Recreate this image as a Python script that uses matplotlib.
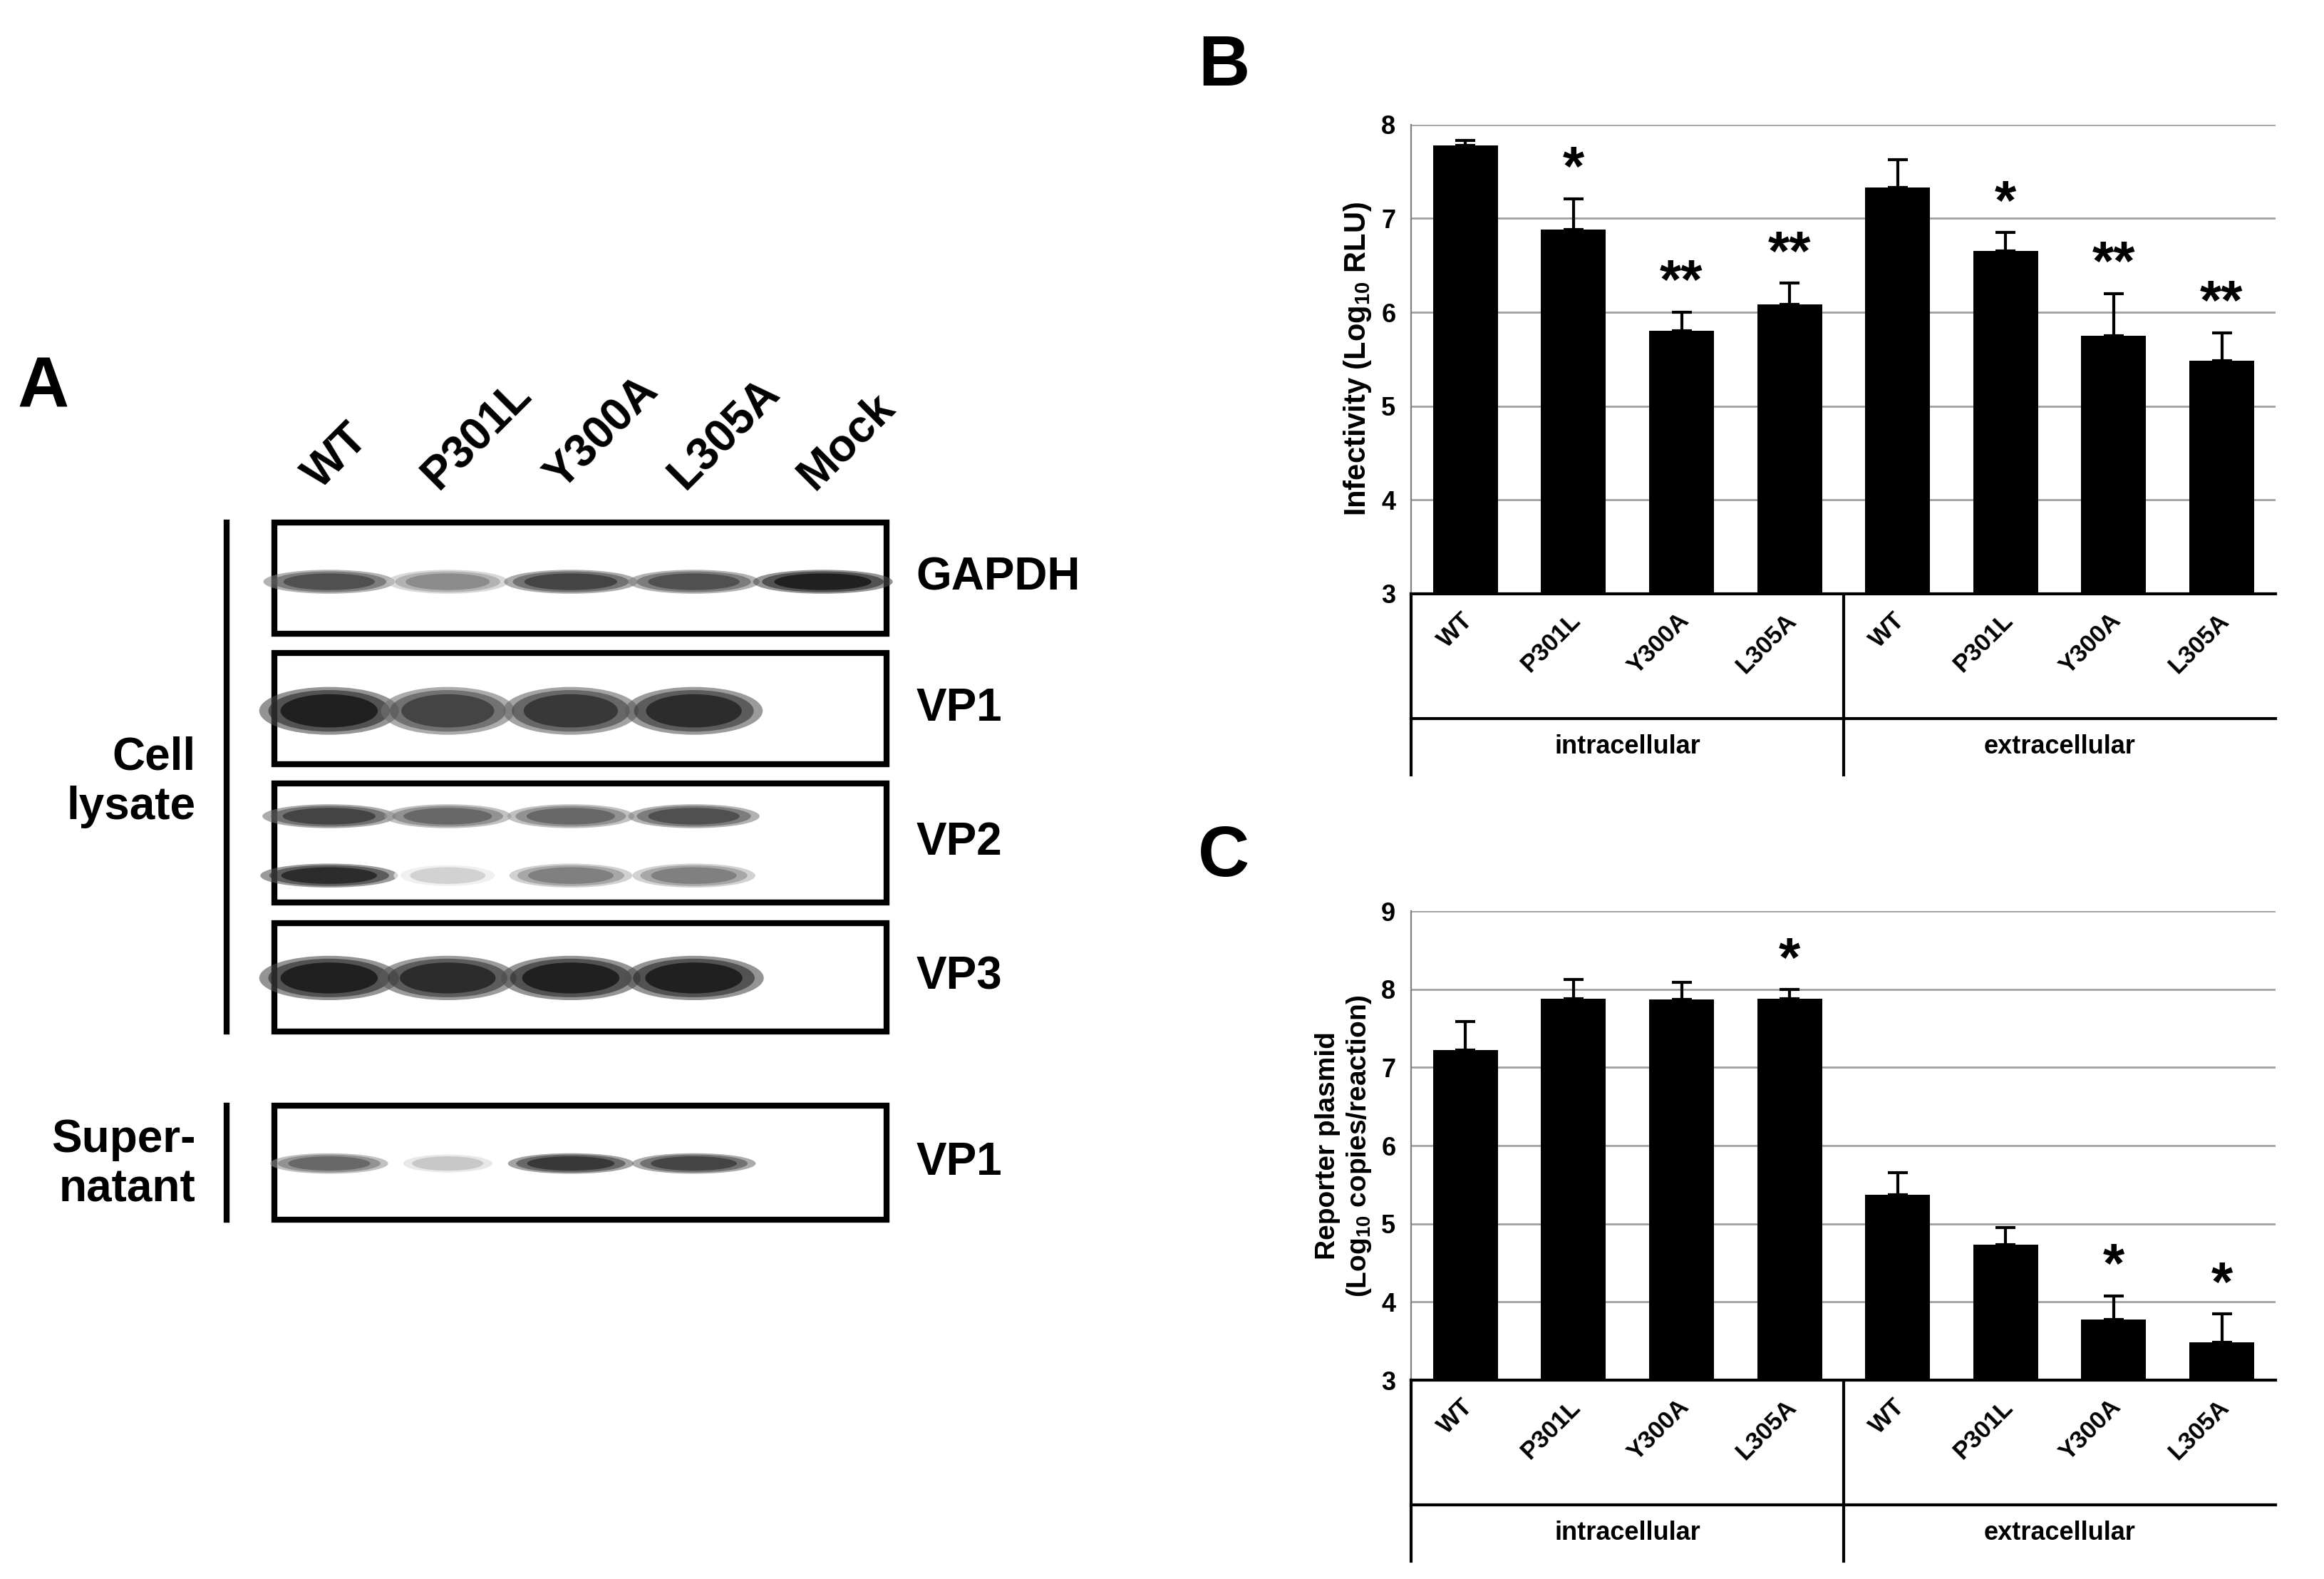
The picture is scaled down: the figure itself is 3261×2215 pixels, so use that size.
import numpy as np
import matplotlib.pyplot as plt
from matplotlib.patches import Rectangle, Ellipse

plt.rcParams['font.family'] = ['Liberation Sans', 'DejaVu Sans']
plt.rcParams['font.weight'] = 'bold'
plt.rcParams['axes.labelweight'] = 'bold'
plt.rcParams['mathtext.fontset'] = 'custom'
plt.rcParams['mathtext.rm'] = 'Liberation Sans:bold'
plt.rcParams['mathtext.bf'] = 'Liberation Sans:bold'
plt.rcParams['mathtext.default'] = 'rm'

mutants = ['WT', 'P301L', 'Y300A', 'L305A']
groups = ['intracellular', 'extracellular']

infect_mean = [7.78, 6.88, 5.80, 6.08, 7.33, 6.65, 5.75, 5.48]
infect_err = [0.05, 0.33, 0.20, 0.23, 0.30, 0.20, 0.45, 0.30]
infect_sig = ['', '*', '**', '**', '', '*', '**', '**']

plasmid_mean = [7.22, 7.88, 7.87, 7.88, 5.37, 4.73, 3.78, 3.48]
plasmid_err = [0.37, 0.25, 0.22, 0.12, 0.28, 0.22, 0.30, 0.37]
plasmid_sig = ['', '', '', '*', '', '', '*', '*']

lanes = ['WT', 'P301L', 'Y300A', 'L305A', 'Mock']
blot_rows = ['GAPDH', 'VP1', 'VP2', 'VP3', 'VP1']
# relative band intensity per lane (0 = no band)
gapdh = [0.8, 0.55, 0.85, 0.8, 1.0]
vp1_cell = [1.0, 0.85, 0.9, 0.95, 0.0]
vp2_upper = [0.85, 0.7, 0.7, 0.8, 0.0]
vp2_lower = [0.95, 0.25, 0.6, 0.6, 0.0]
vp3 = [1.0, 0.95, 1.0, 1.0, 0.0]
vp1_sup = [0.7, 0.3, 0.9, 0.85, 0.0]

W, H = 1568, 1064
fig = plt.figure(figsize=(16.31, 11.075), dpi=200)
ov = fig.add_axes([0, 0, 1, 1])
ov.set_xlim(0, W)
ov.set_ylim(H, 0)
ov.axis('off')


def bar_panel(rect_px, means, errs, sigs, ymax, ylabel, label_bottom):
    x0, x1, ytop, ybot = rect_px
    ax = fig.add_axes([x0 / W, 1 - ybot / H, (x1 - x0) / W, (ybot - ytop) / H])
    x = np.arange(len(means))
    ax.bar(x, np.array(means) - 3, bottom=3, width=0.6, color='black', zorder=3)
    ax.errorbar(x, means, yerr=[np.zeros(len(errs)), errs], fmt='none',
                ecolor='black', elinewidth=1.5, capsize=5, capthick=1.5, zorder=4)
    for xi, m, e, s in zip(x, means, errs, sigs):
        if s:
            ax.text(xi, m + e + 0.02, s, ha='center', va='bottom', fontsize=28)
    ax.set_xlim(-0.5, len(means) - 0.5)
    ax.set_ylim(3, ymax)
    ax.set_yticks(range(3, ymax + 1))
    ax.tick_params(axis='y', labelsize=13, length=0, pad=8)
    ax.set_xticks([])
    ax.yaxis.grid(True, color='#a0a0a0', lw=1)
    ax.set_axisbelow(True)
    for sp in ['top', 'right']:
        ax.spines[sp].set_visible(False)
    ax.spines['left'].set_color('#808080')
    ax.spines['bottom'].set_linewidth(1.5)
    ax.set_ylabel(ylabel, fontsize=15)
    # category area below the axis
    step = (x1 - x0) / len(means)
    mid = x0 + step * 4
    for xv in [x0, mid]:
        ov.plot([xv, xv], [ybot, label_bottom], color='black', lw=1.5)
    for i, name in enumerate(mutants * 2):
        cx = x0 + step * (i + 0.5)
        ov.text(cx + 8, ybot + 10, name, rotation=45, ha='right', va='top', fontsize=12.5)
    ov.plot([x0, x1], [label_bottom - 38, label_bottom - 38], color='black', lw=1.5)
    for gi, g in enumerate(groups):
        ov.text(x0 + step * (4 * gi + 2), label_bottom - 19, g, ha='center', va='center', fontsize=13)
    return ax


axB = bar_panel((952, 1535, 84, 400), infect_mean, infect_err, infect_sig, 8,
                'Infectivity (Log$_{10}$ RLU)', 522)
axC = bar_panel((952, 1535, 614, 930), plasmid_mean, plasmid_err, plasmid_sig, 9,
                'Reporter plasmid\n(Log$_{10}$ copies/reaction)', 1052)
axC.yaxis.label.set_size(14)

for letter, (lx, ly) in zip('ABC', [(12, 262), (808, 45), (808, 578)]):
    ov.text(lx, ly, letter, fontsize=36, ha='left', va='center')

# western blot panel
lane_x = [222, 302, 385, 468, 555]
box_rows = [(352, 427), (440, 515), (528, 608), (622, 695), (745, 822)]
for lx, name in zip(lane_x, lanes):
    ov.text(lx - 22, 335, name, rotation=45, ha='left', va='bottom', fontsize=23)


def bands(yc, intens, h, wid=82):
    for lx, v in zip(lane_x, intens):
        if v <= 0:
            continue
        g = 1 - v
        for k, sc in enumerate([1.15, 1.0, 0.8]):
            ov.add_patch(Ellipse((lx, yc), wid * sc * (0.7 + 0.3 * v), h * sc,
                                 color=str(min(1, g + 0.15 * (2 - k))), alpha=0.6, lw=0))


for (t, b), nm in zip(box_rows, blot_rows):
    ov.add_patch(Rectangle((185, t), 413, b - t, fill=False, ec='black', lw=3))
    ov.text(618, (t + b) / 2, nm, ha='left', va='center', fontsize=23)

bands(392, gapdh, 14)
bands(479, vp1_cell, 28)
bands(550, vp2_upper, 14)
bands(590, vp2_lower, 14)
bands(659, vp3, 26)
bands(784, vp1_sup, 12, wid=76)

ov.plot([153, 153], [352, 695], color='black', lw=3)
ov.plot([153, 153], [745, 822], color='black', lw=3)
ov.text(132, 527, 'Cell\nlysate', ha='right', va='center', fontsize=23, linespacing=1.2)
ov.text(132, 785, 'Super-\nnatant', ha='right', va='center', fontsize=23, linespacing=1.2)

fig.savefig('out.png', dpi=200)
